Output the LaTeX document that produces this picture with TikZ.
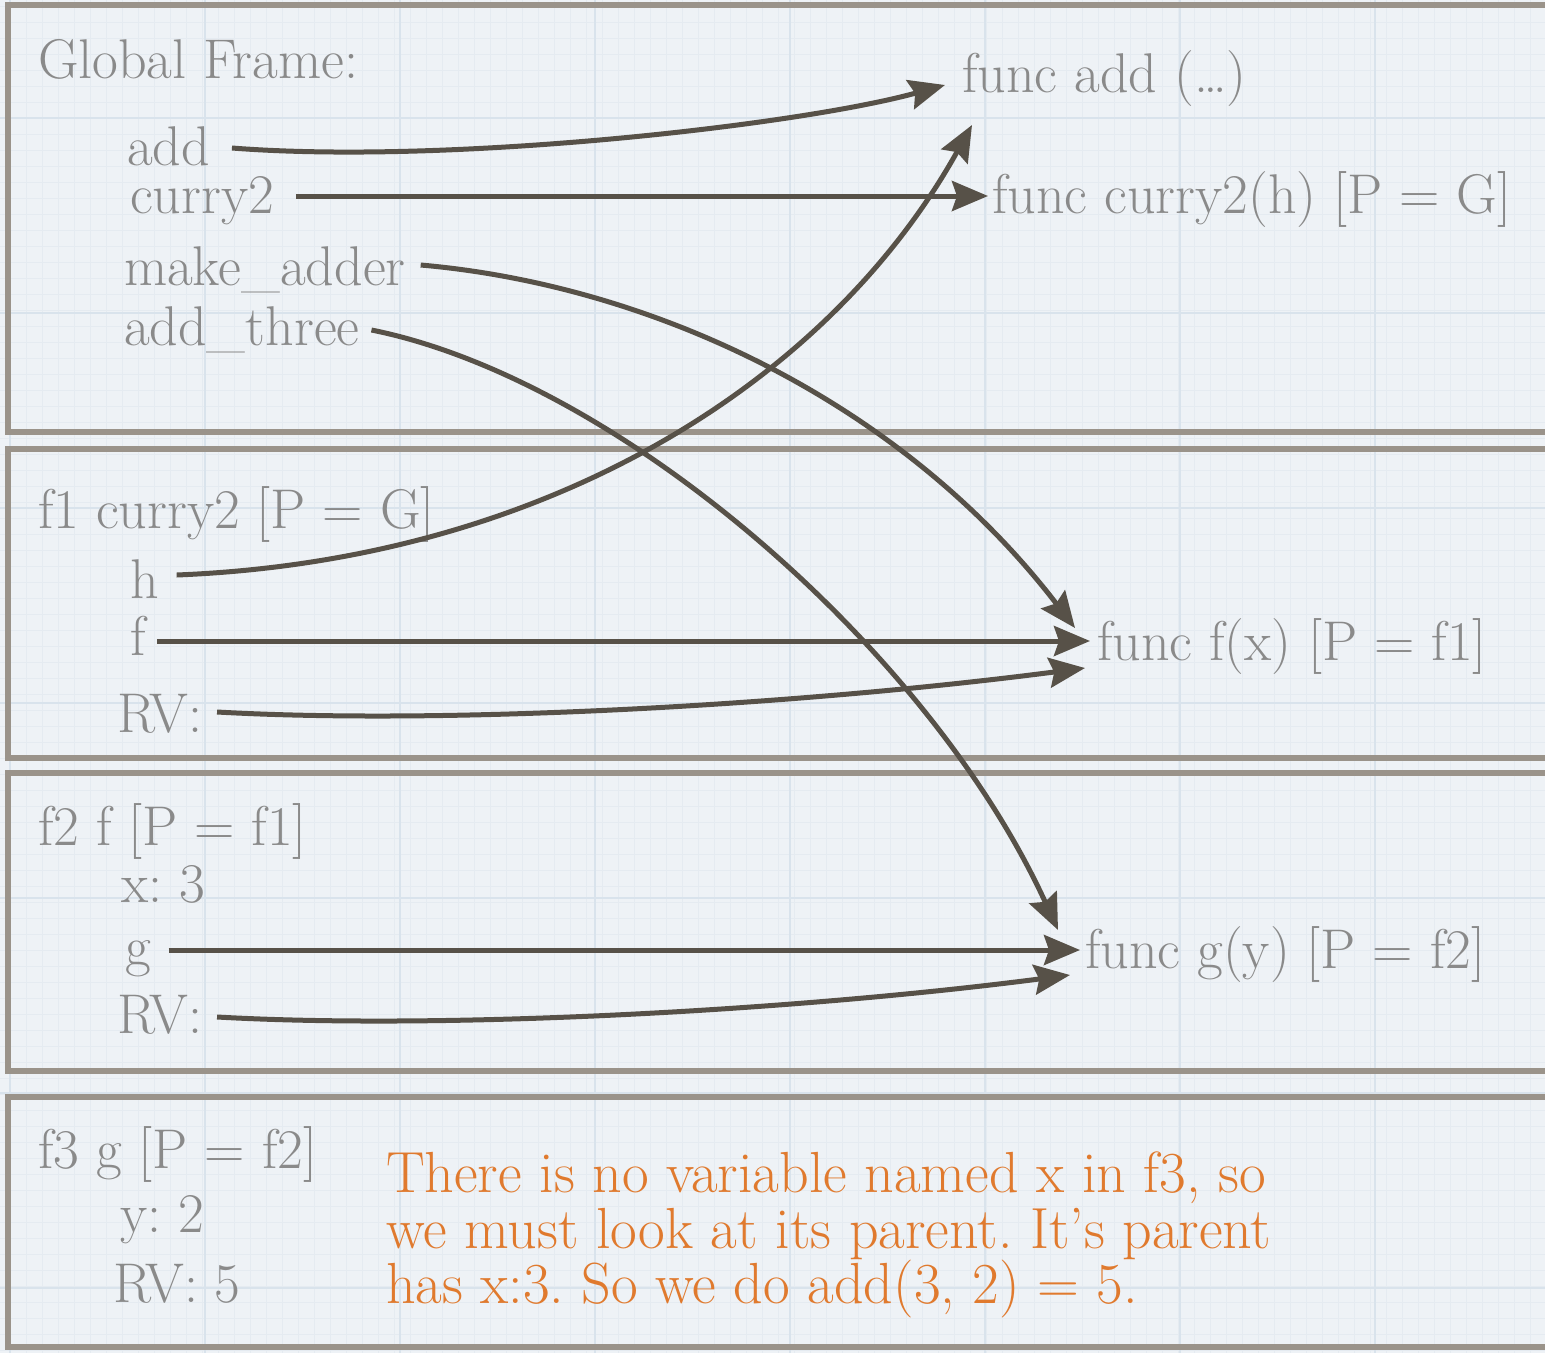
\documentclass[tikz,border=0pt]{standalone}
\usepackage{fontspec}
\setmainfont{Latin Modern Roman}
\usetikzlibrary{arrows.meta}
\definecolor{bgc}{HTML}{EEF2F6}
\definecolor{minorc}{HTML}{E5EBF1}
\definecolor{majorc}{HTML}{D9E3EC}
\definecolor{framec}{HTML}{9A938A}
\definecolor{txtgrey}{HTML}{8A8A8A}
\definecolor{arrc}{HTML}{575148}
\definecolor{orangec}{HTML}{E07A2E}
\frenchspacing
\begin{document}
\begin{tikzpicture}[x=1pt,y=-1pt,
  txt/.style={anchor=base west, inner sep=0pt, outer sep=0pt, text=txtgrey, font=\frenchspacing\fontsize{56}{64}\selectfont},
  note/.style={txt, text=orangec, font=\frenchspacing\fontsize{58}{64}\selectfont},
  frame/.style={draw=framec, line width=6pt},
  conn/.style={draw=arrc, line width=5pt, -{Stealth[length=36pt,width=30pt,inset=5pt]}},
  minorl/.style={draw=minorc, line width=0.6pt},
  majorl/.style={draw=majorc, line width=1.6pt}]
\useasboundingbox (0,0) rectangle (1545,1353);
\clip (0,0) rectangle (1545,1353);
\fill[bgc] (0,0) rectangle (1545,1353);
\foreach \x in {10,26,...,1545} \draw[minorl] (\x,0) -- (\x,1353);
\foreach \y in {6,22,...,1353} \draw[minorl] (0,\y) -- (1545,\y);
\foreach \x in {10,205,...,1545} \draw[majorl] (\x,0) -- (\x,1353);
\foreach \y in {118,313,...,1353} \draw[majorl] (0,\y) -- (1545,\y);

% frames
\draw[frame] (8,5) rectangle (1570,432);
\draw[frame] (8,449) rectangle (1570,758);
\draw[frame] (8,773) rectangle (1570,1071);
\draw[frame] (8,1097) rectangle (1570,1347);

% global frame
\node[txt] (gtitle) at (38,78) {Global Frame:};
\node[txt] (add) at (127,165) {add};
\node[txt] (curry) at (130,213) {curry2};
\node[txt] (make) at (124,285) {make\_adder};
\node[txt] (three) at (124,345) {add\_three};
\node[txt] (fadd) at (962,92) {func add (\ldots)};
\node[txt] (fcurry) at (992,213) {func curry2(h) [P = G]};

% f1
\node[txt] (f1title) at (38,528) {f1 curry2 [P = G]};
\node[txt] (h) at (130,598) {h};
\node[txt] (f) at (130,655) {f};
\node[txt] (rv1) at (117,732) {RV:};
\node[txt] (ffx) at (1097,660) {func f(x) [P = f1]};

% f2
\node[txt] (f2title) at (38,845) {f2 f [P = f1]};
\node[txt] (x3) at (121,902) {x: 3};
\node[txt] (g) at (125,965) {g};
\node[txt] (rv2) at (117,1033) {RV:};
\node[txt] (fgy) at (1085,968) {func g(y) [P = f2]};

% f3
\node[txt] (f3title) at (38,1168) {f3 g [P = f2]};
\node[txt] (y2) at (120,1232) {y: 2};
\node[txt] (rv3) at (113,1302) {RV: 5};
\node[note] (note1) at (386,1192) {There is no variable named x in f3, so};
\node[note] (note2) at (386,1248) {we must look at its parent. It’s parent};
\node[note] (note3) at (386,1303) {has x:3. So we do add(3, 2) = 5.};

% connectors
\draw[conn] ([xshift=22pt,yshift=17pt]add.base east) .. controls (450,165) and (800,125) .. ([xshift=-17pt,yshift=7pt]fadd.base west);
\draw[conn] ([xshift=22pt,yshift=17pt]curry.base east) -- ([xshift=-4pt,yshift=17pt]fcurry.base west);
\draw[conn] ([xshift=15pt,yshift=20pt]make.base east) .. controls (650,285) and (900,400) .. ([xshift=-22pt,yshift=32pt]ffx.base west);
\draw[conn] ([xshift=12pt,yshift=15pt]three.base east) .. controls (620,380) and (930,650) .. ([xshift=-27pt,yshift=38pt]fgy.base west);
\draw[conn] ([xshift=18pt,yshift=23pt]h.base east) .. controls (550,560) and (830,380) .. ([xshift=10pt,yshift=-33pt]fadd.base west);
\draw[conn] ([xshift=12pt,yshift=14pt]f.base east) -- ([xshift=-7pt,yshift=19pt]ffx.base west);
\draw[conn] ([xshift=15pt,yshift=20pt]rv1.base east) .. controls (450,725) and (800,705) .. ([xshift=-12pt,yshift=-8pt]ffx.base west);
\draw[conn] ([xshift=18pt,yshift=15pt]g.base east) -- ([xshift=-5pt,yshift=18pt]fgy.base west);
\draw[conn] ([xshift=15pt,yshift=16pt]rv2.base east) .. controls (450,1030) and (800,1010) .. ([xshift=-15pt,yshift=-7pt]fgy.base west);
\end{tikzpicture}
\end{document}
